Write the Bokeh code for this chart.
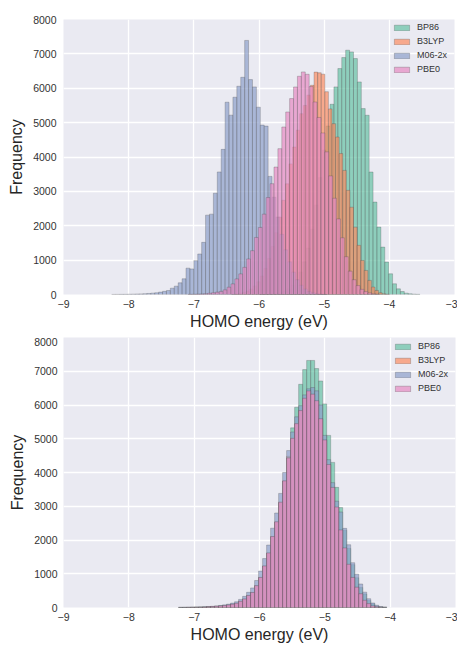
from bokeh.plotting import figure
from bokeh.layouts import column
from bokeh.models import Legend, LegendItem, FixedTicker, Range1d
from bokeh.embed import file_html
from bokeh.resources import INLINE

methods = ["BP86", "B3LYP", "M06-2x", "PBE0"]
colors = ["#66c2a5", "#fc8d62", "#8da0cb", "#e78ac3"]

x_ticks = [-9, -8, -7, -6, -5, -4, -3]
x_tick_labels = ["\u22129", "\u22128", "\u22127", "\u22126", "\u22125", "\u22124", "\u22123"]
y_ticks = [0, 1000, 2000, 3000, 4000, 5000, 6000, 7000, 8000]

# ---------------- top panel: raw HOMO energies ----------------
top_bp86_start, top_bp86_width = -5.99, 0.06
top_bp86_counts = [5, 10, 18, 28, 38, 50, 90, 160, 270, 430, 650, 950, 1350, 1900, 2600,
                   3400, 4200, 4900, 5534, 6039, 6573, 6893, 7107, 7058, 6864, 6184, 5408,
                   5214, 3563, 2689, 1961, 1379, 942, 602, 311, 165, 87, 39, 20, 10, 5]

top_b3lyp_start, top_b3lyp_width = -6.42, 0.055
top_b3lyp_counts = [10, 20, 35, 60, 100, 160, 250, 370, 540, 760, 1050, 1400, 1800, 2250,
                    2740, 3220, 3800, 4290, 4780, 5260, 5500, 5800, 6086, 6470, 6450, 6410,
                    5900, 5400, 4970, 4580, 4100, 3610, 3030, 2540, 1960, 1430, 990, 700,
                    410, 215, 117, 50, 20, 8]

top_m062x_start, top_m062x_width = -8.26, 0.06
top_m062x_counts = [2, 3, 4, 5, 8, 10, 14, 18, 22, 30, 40, 50, 70, 93, 116, 184, 243, 340,
                    457, 766, 744, 985, 1179, 1517, 2309, 2338, 2947, 3565, 4222, 5594, 5217,
                    5739, 6058, 6319, 7391, 6251, 6039, 5449, 4928, 4899, 3436, 2830, 2250,
                    1750, 1300, 950, 650, 430, 270, 160, 90, 50, 25, 12, 5]

top_pbe0_start, top_pbe0_width = -7.09, 0.06
top_pbe0_counts = [5, 8, 12, 18, 25, 35, 50, 68, 90, 135, 213, 309, 454, 600, 790, 1034,
                   1275, 1660, 1950, 2338, 2820, 3224, 3708, 4243, 4873, 5310, 5700, 6037,
                   6349, 6475, 6407, 6050, 5600, 5150, 4700, 4150, 3450, 2800, 2200, 1650,
                   1100, 680, 430, 260, 150, 85, 45, 22, 10]

# ---------------- bottom panel: aligned HOMO energies ----------------
bot_start, bot_width = -7.24, 0.0613
bot_bp86_counts = [2, 3, 4, 5, 8, 10, 14, 19, 26, 33, 43, 55, 72,
                   95, 122, 180, 248, 350, 440, 640, 880, 1220, 1600, 2090, 2520, 3100, 3740,
                   4420, 5323, 5934, 6613, 7049, 7320, 7320, 7080, 6712, 6033, 5100, 4300,
                   3560, 2960, 2290, 1750, 1270, 880, 590, 400, 205, 110, 45, 18, 7]
bot_b3lyp_counts = [2, 3, 4, 6, 8, 11, 15, 20, 27, 35, 45, 58, 75,
                    96, 125, 182, 250, 354, 442, 645, 887, 1225, 1612, 2098, 2533, 3113, 3745,
                    4480, 5005, 5440, 5828, 6190, 6410, 6315, 6120, 5588, 4958, 4230, 3550,
                    2970, 2290, 1758, 1275, 888, 598, 404, 210, 114, 47, 19, 7, 3]
bot_m062x_counts = [3, 4, 6, 8, 11, 15, 20, 27, 36, 46, 60, 78, 100,
                    130, 170, 240, 330, 450, 580, 800, 1080, 1450, 1850, 2350, 2800, 3380, 4000,
                    4650, 5200, 5650, 5980, 6300, 6480, 6518, 6420, 6000, 5100, 4380, 3700,
                    3150, 2830, 2345, 1860, 1327, 988, 697, 455, 261, 135, 67, 30, 12]
bot_pbe0_counts = [2, 3, 4, 6, 8, 11, 15, 20, 27, 35, 45, 58, 75,
                   97, 126, 184, 252, 357, 445, 648, 891, 1231, 1618, 2104, 2540, 3121, 3752,
                   4431, 5013, 5449, 5836, 6200, 6418, 6322, 6128, 5594, 4964, 4237, 3558,
                   2976, 2298, 1765, 1280, 892, 601, 407, 213, 116, 48, 20, 8, 3]

FONT = "Liberation Sans"


def style(p, y_standoff):
    p.background_fill_color = "#EAEAF2"
    p.border_fill_color = "white"
    p.outline_line_color = None
    p.xgrid.grid_line_color = "white"
    p.ygrid.grid_line_color = "white"
    p.xgrid.grid_line_width = 1.3
    p.ygrid.grid_line_width = 1.3
    for ax in (p.xaxis[0], p.yaxis[0]):
        ax.axis_line_color = None
        ax.major_tick_line_color = None
        ax.minor_tick_line_color = None
        ax.major_tick_out = 0
        ax.major_tick_in = 0
        ax.minor_tick_out = 0
        ax.minor_tick_in = 0
        ax.major_label_text_font = FONT
        ax.major_label_text_font_size = "10.5px"
        ax.major_label_text_color = "#333333"
        ax.axis_label_text_font = FONT
        ax.axis_label_text_font_size = "16px"
        ax.axis_label_text_font_style = "normal"
        ax.axis_label_text_color = "#262626"
    p.xaxis.ticker = FixedTicker(ticks=x_ticks)
    p.xaxis.major_label_overrides = {t: l for t, l in zip(x_ticks, x_tick_labels)}
    p.yaxis.ticker = FixedTicker(ticks=y_ticks)
    p.xaxis.major_label_standoff = 5
    p.yaxis.major_label_standoff = y_standoff
    p.xaxis.axis_label_standoff = 2
    p.yaxis.axis_label_standoff = 5
    p.xaxis.axis_label = "HOMO energy (eV)"
    p.yaxis.axis_label = "Frequency"


def add_hist(p, starts, widths, counts_list, legend_xy):
    items = []
    for name, col, s, w, counts in zip(methods, colors, starts, widths, counts_list):
        left = [s + i * w for i in range(len(counts))]
        right = [s + (i + 1) * w for i in range(len(counts))]
        r = p.quad(left=left, right=right, bottom=0, top=counts,
                   fill_color=col, fill_alpha=0.7,
                   line_color="#4a4a4a", line_alpha=0.35, line_width=0.8)
        items.append(LegendItem(label=name, renderers=[r]))
    leg = Legend(items=items, location=legend_xy)
    leg.border_line_color = None
    leg.background_fill_alpha = 0
    leg.label_text_font = FONT
    leg.label_text_font_size = "9px"
    leg.label_text_color = "#333333"
    leg.label_height = 9
    leg.glyph_height = 7
    leg.glyph_width = 19
    leg.label_standoff = 6
    leg.spacing = 4
    leg.padding = 0
    leg.margin = 0
    p.add_layout(leg)


p1 = figure(frame_width=391, frame_height=275, output_backend="svg", toolbar_location=None,
            x_range=Range1d(-9, -3), y_range=Range1d(0, 8000),
            min_border_left=61, min_border_right=5, min_border_top=19, min_border_bottom=43)
style(p1, 7)
add_hist(p1,
         [top_bp86_start, top_b3lyp_start, top_m062x_start, top_pbe0_start],
         [top_bp86_width, top_b3lyp_width, top_m062x_width, top_pbe0_width],
         [top_bp86_counts, top_b3lyp_counts, top_m062x_counts, top_pbe0_counts],
         (329, 220))

p2 = figure(frame_width=392, frame_height=270, output_backend="svg", toolbar_location=None,
            x_range=Range1d(-9, -3), y_range=Range1d(0, 8000),
            min_border_left=63, min_border_right=2, min_border_top=0, min_border_bottom=36)
style(p2, 6)
add_hist(p2,
         [bot_start] * 4,
         [bot_width] * 4,
         [bot_bp86_counts, bot_b3lyp_counts, bot_m062x_counts, bot_pbe0_counts],
         (330, 214))

layout = column(p1, p2, spacing=0)
open("out.html", "w").write(file_html(layout, INLINE))
